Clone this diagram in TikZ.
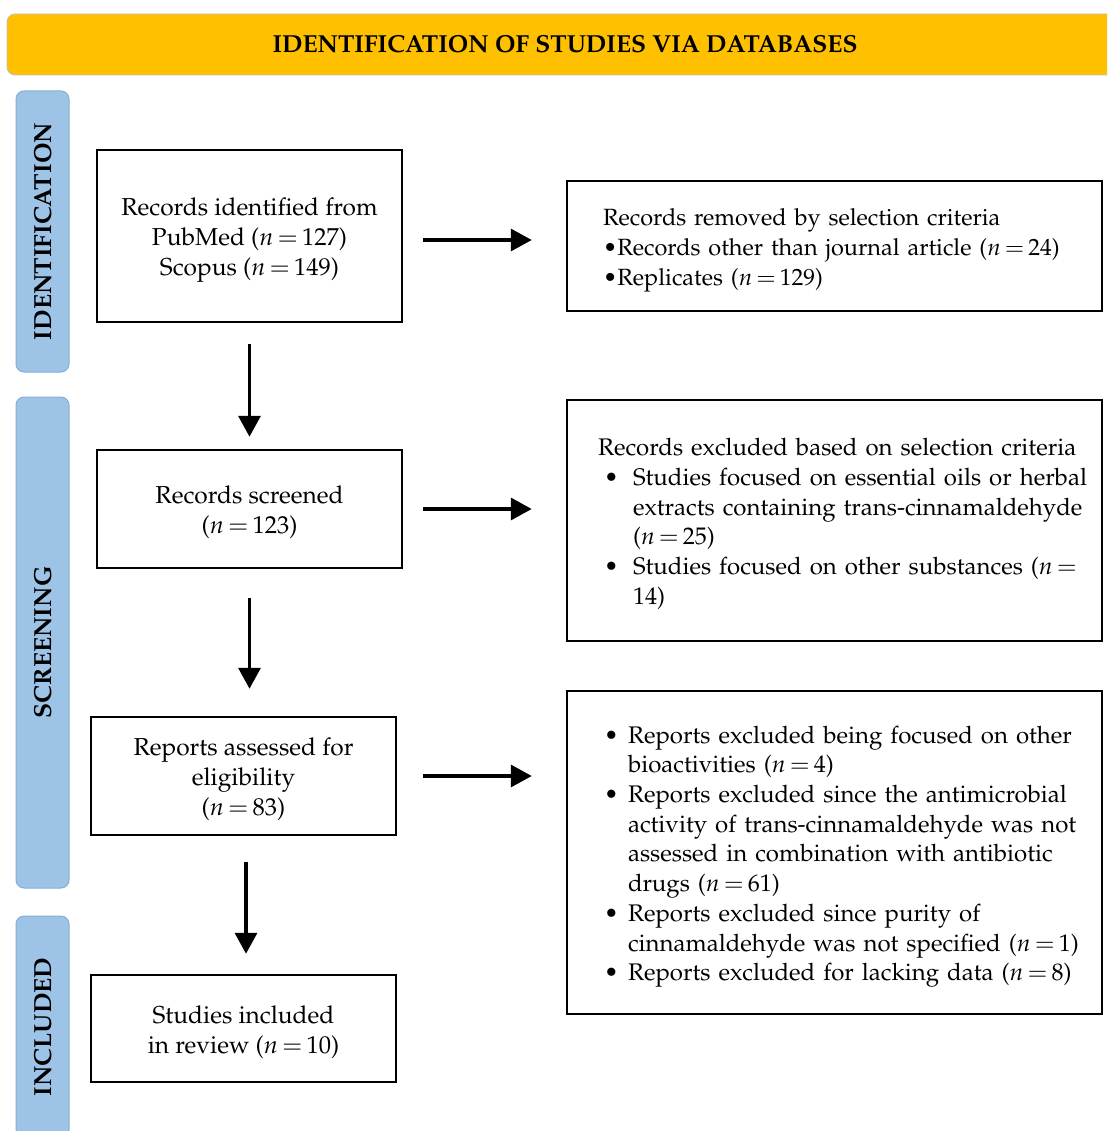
\documentclass[tikz,border=0pt]{standalone}
\usepackage[T1]{fontenc}
\usepackage{mathpazo}
\usetikzlibrary{arrows.meta}
\definecolor{hdr}{HTML}{FFC000}
\definecolor{bandfill}{HTML}{9DC3E6}
\definecolor{bandedge}{HTML}{8AAED2}
\newcommand{\nval}[1]{$n\mkern3mu{=}\mkern3mu#1$}
\newcommand{\padtop}[1]{\raisebox{0pt}[\dimexpr\height+7pt\relax][\depth]{#1}}
\newcommand{\clines}[1]{\padtop{\begin{tabular}{@{}c@{}}#1\end{tabular}}}
\newcommand{\llines}[1]{\padtop{\begin{tabular}{@{}l@{}}#1\end{tabular}}}
\begin{document}
\begin{tikzpicture}[x=1pt,y=-1pt,
  every node/.style={font=\fontsize{24.5}{30}\selectfont},
  box/.style={draw, line width=2.5pt, minimum width=305pt, align=center, inner sep=0pt},
  rbox/.style={draw, line width=2.5pt, minimum width=535pt, align=left, inner ysep=0pt,
    font=\fontsize{24}{29.7}\selectfont},
  arr/.style={-{Triangle[length=21pt,width=22pt]}, line width=3.5pt},
  bandbox/.style={fill=bandfill, draw=bandedge, line width=1pt, rounded corners=8pt, rotate=90,
    minimum height=53pt, inner sep=0pt, font=\fontsize{24.7}{28}\selectfont\bfseries},
]
\useasboundingbox (0,0) rectangle (1107,1131);
\clip (0,0) rectangle (1107,1131);

% header
\node[fill=hdr, draw=black!25, line width=0.8pt, rounded corners=8pt, minimum width=1116pt,
  minimum height=61pt, inner sep=0pt, font=\fontsize{24.6}{28}\selectfont\bfseries]
  (hdr) at (565,44.5) {IDENTIFICATION OF STUDIES VIA DATABASES};

% phase bands
\node[bandbox, minimum width=281pt] (bid) at (42.5,231.5) {IDENTIFICATION};
\node[bandbox, minimum width=491pt] (bsc) at (42.5,642.5) {SCREENING};
\node[bandbox, minimum width=222pt] (bin) at (42.5,1027) {INCLUDED};

% left column boxes
\node[box, minimum height=172pt] (B1) at (249.5,236)
  {\clines{Records identified from\\PubMed (\nval{127})\\Scopus (\nval{149})}};
\node[box, minimum height=118pt] (B2) at (249.5,509)
  {\clines{Records screened\\(\nval{123})}};
\node[box, minimum height=118pt] (B3) at (243.5,776)
  {\clines{Reports assessed for\\eligibility\\(\nval{83})}};
\node[box, minimum height=107pt] (B4) at (243.5,1028.5)
  {\clines{Studies included\\in review (\nval{10})}};

% right column boxes
\node[rbox, minimum height=130pt, inner xsep=36pt, text width=463pt,
  font=\fontsize{23.5}{30}\selectfont] (R1) at (834.5,246)
  {\llines{
   Records removed by selection criteria\\
   \textbullet Records other than journal article (\nval{24})\\
   \textbullet Replicates (\nval{129})}};
\node[rbox, minimum height=241pt, inner xsep=31pt, text width=473pt] (R2) at (834.5,520.5)
  {\llines{
   Records excluded based on selection criteria\\
   \makebox[35pt][l]{\hspace{6pt}\textbullet}Studies focused on essential oils or herbal\\
   \hspace*{35pt}extracts containing trans-cinnamaldehyde\\
   \hspace*{35pt}(\nval{25})\\
   \makebox[35pt][l]{\hspace{6pt}\textbullet}Studies focused on other substances ($n\mkern3mu{=}$\\
   \hspace*{35pt}14)}};
\node[rbox, minimum height=323pt, inner xsep=37pt, text width=461pt] (R3) at (834.5,852.5)
  {\llines{
   \makebox[24pt][l]{\textbullet}Reports excluded being focused on other\\
   \hspace*{24pt}bioactivities (\nval{4})\\
   \makebox[24pt][l]{\textbullet}Reports excluded since the antimicrobial\\
   \hspace*{24pt}activity of trans-cinnamaldehyde was not\\
   \hspace*{24pt}assessed in combination with antibiotic\\
   \hspace*{24pt}drugs (\nval{61})\\
   \makebox[24pt][l]{\textbullet}Reports excluded since purity of\\
   \hspace*{24pt}cinnamaldehyde was not specified (\nval{1})\\
   \makebox[24pt][l]{\textbullet}Reports excluded for lacking data (\nval{8})}};

% vertical arrows
\draw[arr, shorten <=21pt, shorten >=12pt] (B1.south) -- (B2.north);
\draw[arr, shorten <=29pt, shorten >=27pt] (B2.south) -- (B2.south |- B3.north);
\draw[arr, shorten <=26pt, shorten >=20pt] ([xshift=2.5pt]B3.south) -- ([xshift=2.5pt]B4.north);

% horizontal arrows
\draw[arr, shorten <=20pt, shorten >=34pt] ([yshift=-4pt]B1.east) -- ([yshift=-4pt]B1.east -| R1.west);
\draw[arr, shorten <=20pt, shorten >=34pt] (B2.east) -- (B2.east -| R2.west);
\draw[arr, shorten <=26pt, shorten >=34pt] (B3.east) -- (B3.east -| R3.west);
\end{tikzpicture}
\end{document}
